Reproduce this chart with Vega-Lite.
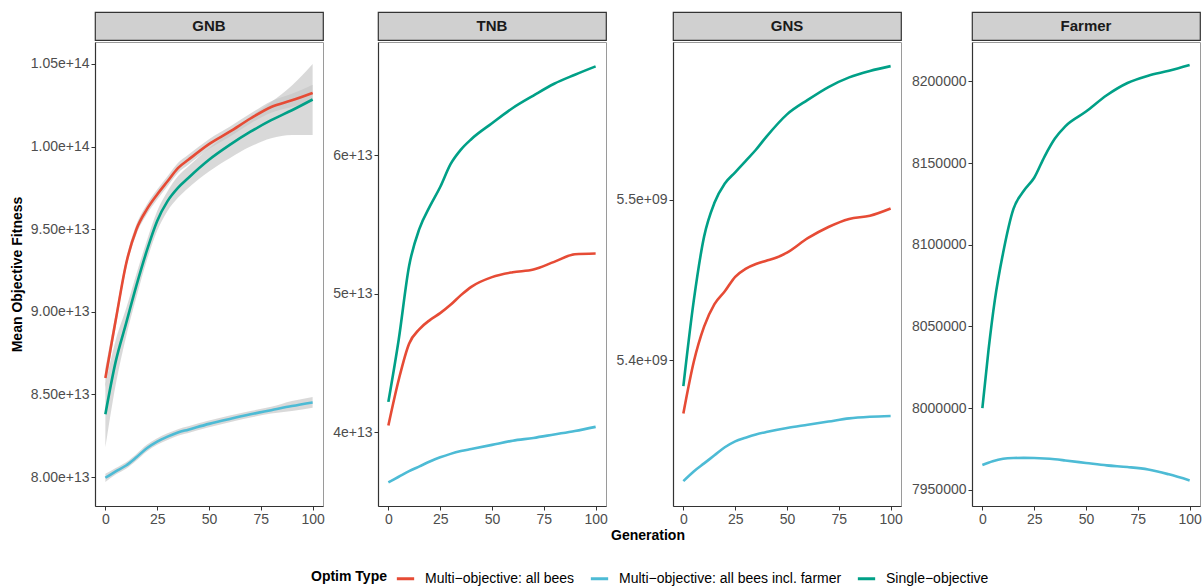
{
  "$schema": "https://vega.github.io/schema/vega-lite/v6.json",
  "padding": {"left": 9, "top": 11, "right": 0, "bottom": 0},
  "background": "white",
  "config": {
    "font": "Liberation Sans",
    "view": {"stroke": null},
    "axis": {"labelFontSize": 14, "labelColor": "#4d4d4d", "titleFontSize": 14, "titleFontWeight": "bold", "titleColor": "black", "domainColor": "#333333", "domainWidth": 1.2, "tickColor": "#333333", "tickSize": 4, "tickWidth": 1, "grid": false, "labelPadding": 2}
  },
  "datasets": {
    "c": [
      {"p":"GNB","t":"Multi−objective: all bees","g":0,"v":8.60e13,"lo":8.54e13,"hi":8.66e13},
      {"p":"GNB","t":"Multi−objective: all bees","g":5,"v":8.95e13,"lo":8.91e13,"hi":8.99e13},
      {"p":"GNB","t":"Multi−objective: all bees","g":10,"v":9.29e13,"lo":9.26e13,"hi":9.32e13},
      {"p":"GNB","t":"Multi−objective: all bees","g":15,"v":9.50e13,"lo":9.47e13,"hi":9.53e13},
      {"p":"GNB","t":"Multi−objective: all bees","g":20,"v":9.62e13,"lo":9.59e13,"hi":9.65e13},
      {"p":"GNB","t":"Multi−objective: all bees","g":25,"v":9.71e13,"lo":9.68e13,"hi":9.74e13},
      {"p":"GNB","t":"Multi−objective: all bees","g":30,"v":9.79e13,"lo":9.76e13,"hi":9.82e13},
      {"p":"GNB","t":"Multi−objective: all bees","g":35,"v":9.87e13,"lo":9.84e13,"hi":9.90e13},
      {"p":"GNB","t":"Multi−objective: all bees","g":40,"v":9.92e13,"lo":9.89e13,"hi":9.95e13},
      {"p":"GNB","t":"Multi−objective: all bees","g":50,"v":1.0015e14,"lo":9.985e13,"hi":1.0045e14},
      {"p":"GNB","t":"Multi−objective: all bees","g":60,"v":1.009e14,"lo":1.006e14,"hi":1.012e14},
      {"p":"GNB","t":"Multi−objective: all bees","g":70,"v":1.017e14,"lo":1.014e14,"hi":1.020e14},
      {"p":"GNB","t":"Multi−objective: all bees","g":80,"v":1.024e14,"lo":1.0205e14,"hi":1.0275e14},
      {"p":"GNB","t":"Multi−objective: all bees","g":90,"v":1.028e14,"lo":1.024e14,"hi":1.032e14},
      {"p":"GNB","t":"Multi−objective: all bees","g":100,"v":1.0325e14,"lo":1.0275e14,"hi":1.0375e14},
      {"p":"GNB","t":"Single−objective","g":0,"v":8.38e13,"lo":8.18e13,"hi":8.56e13},
      {"p":"GNB","t":"Single−objective","g":5,"v":8.70e13,"lo":8.56e13,"hi":8.83e13},
      {"p":"GNB","t":"Single−objective","g":10,"v":8.93e13,"lo":8.85e13,"hi":9.02e13},
      {"p":"GNB","t":"Single−objective","g":15,"v":9.16e13,"lo":9.09e13,"hi":9.23e13},
      {"p":"GNB","t":"Single−objective","g":20,"v":9.37e13,"lo":9.31e13,"hi":9.43e13},
      {"p":"GNB","t":"Single−objective","g":25,"v":9.55e13,"lo":9.49e13,"hi":9.61e13},
      {"p":"GNB","t":"Single−objective","g":30,"v":9.67e13,"lo":9.61e13,"hi":9.73e13},
      {"p":"GNB","t":"Single−objective","g":35,"v":9.75e13,"lo":9.69e13,"hi":9.82e13},
      {"p":"GNB","t":"Single−objective","g":40,"v":9.81e13,"lo":9.75e13,"hi":9.88e13},
      {"p":"GNB","t":"Single−objective","g":50,"v":9.92e13,"lo":9.85e13,"hi":9.99e13},
      {"p":"GNB","t":"Single−objective","g":60,"v":1.001e14,"lo":9.93e13,"hi":1.009e14},
      {"p":"GNB","t":"Single−objective","g":70,"v":1.009e14,"lo":1.000e14,"hi":1.018e14},
      {"p":"GNB","t":"Single−objective","g":80,"v":1.016e14,"lo":1.005e14,"hi":1.027e14},
      {"p":"GNB","t":"Single−objective","g":90,"v":1.022e14,"lo":1.007e14,"hi":1.037e14},
      {"p":"GNB","t":"Single−objective","g":100,"v":1.0285e14,"lo":1.007e14,"hi":1.050e14},
      {"p":"GNB","t":"Multi−objective: all bees incl. farmer","g":0,"v":7.996e13,"lo":7.97e13,"hi":8.02e13},
      {"p":"GNB","t":"Multi−objective: all bees incl. farmer","g":5,"v":8.035e13,"lo":8.015e13,"hi":8.055e13},
      {"p":"GNB","t":"Multi−objective: all bees incl. farmer","g":10,"v":8.07e13,"lo":8.05e13,"hi":8.09e13},
      {"p":"GNB","t":"Multi−objective: all bees incl. farmer","g":15,"v":8.12e13,"lo":8.10e13,"hi":8.14e13},
      {"p":"GNB","t":"Multi−objective: all bees incl. farmer","g":20,"v":8.175e13,"lo":8.155e13,"hi":8.195e13},
      {"p":"GNB","t":"Multi−objective: all bees incl. farmer","g":25,"v":8.215e13,"lo":8.195e13,"hi":8.235e13},
      {"p":"GNB","t":"Multi−objective: all bees incl. farmer","g":30,"v":8.245e13,"lo":8.225e13,"hi":8.265e13},
      {"p":"GNB","t":"Multi−objective: all bees incl. farmer","g":35,"v":8.27e13,"lo":8.25e13,"hi":8.29e13},
      {"p":"GNB","t":"Multi−objective: all bees incl. farmer","g":40,"v":8.287e13,"lo":8.267e13,"hi":8.307e13},
      {"p":"GNB","t":"Multi−objective: all bees incl. farmer","g":50,"v":8.322e13,"lo":8.302e13,"hi":8.342e13},
      {"p":"GNB","t":"Multi−objective: all bees incl. farmer","g":60,"v":8.352e13,"lo":8.332e13,"hi":8.372e13},
      {"p":"GNB","t":"Multi−objective: all bees incl. farmer","g":70,"v":8.38e13,"lo":8.36e13,"hi":8.40e13},
      {"p":"GNB","t":"Multi−objective: all bees incl. farmer","g":80,"v":8.405e13,"lo":8.385e13,"hi":8.425e13},
      {"p":"GNB","t":"Multi−objective: all bees incl. farmer","g":90,"v":8.43e13,"lo":8.40e13,"hi":8.46e13},
      {"p":"GNB","t":"Multi−objective: all bees incl. farmer","g":100,"v":8.452e13,"lo":8.42e13,"hi":8.485e13},

      {"p":"TNB","t":"Single−objective","g":0,"v":4.22e13},
      {"p":"TNB","t":"Single−objective","g":5,"v":4.67e13},
      {"p":"TNB","t":"Single−objective","g":10,"v":5.20e13},
      {"p":"TNB","t":"Single−objective","g":15,"v":5.47e13},
      {"p":"TNB","t":"Single−objective","g":20,"v":5.63e13},
      {"p":"TNB","t":"Single−objective","g":25,"v":5.77e13},
      {"p":"TNB","t":"Single−objective","g":30,"v":5.935e13},
      {"p":"TNB","t":"Single−objective","g":35,"v":6.04e13},
      {"p":"TNB","t":"Single−objective","g":40,"v":6.115e13},
      {"p":"TNB","t":"Single−objective","g":50,"v":6.23e13},
      {"p":"TNB","t":"Single−objective","g":60,"v":6.34e13},
      {"p":"TNB","t":"Single−objective","g":70,"v":6.43e13},
      {"p":"TNB","t":"Single−objective","g":80,"v":6.515e13},
      {"p":"TNB","t":"Single−objective","g":90,"v":6.58e13},
      {"p":"TNB","t":"Single−objective","g":100,"v":6.64e13},
      {"p":"TNB","t":"Multi−objective: all bees","g":0,"v":4.05e13},
      {"p":"TNB","t":"Multi−objective: all bees","g":5,"v":4.38e13},
      {"p":"TNB","t":"Multi−objective: all bees","g":10,"v":4.64e13},
      {"p":"TNB","t":"Multi−objective: all bees","g":15,"v":4.745e13},
      {"p":"TNB","t":"Multi−objective: all bees","g":20,"v":4.81e13},
      {"p":"TNB","t":"Multi−objective: all bees","g":25,"v":4.86e13},
      {"p":"TNB","t":"Multi−objective: all bees","g":30,"v":4.92e13},
      {"p":"TNB","t":"Multi−objective: all bees","g":35,"v":4.99e13},
      {"p":"TNB","t":"Multi−objective: all bees","g":40,"v":5.05e13},
      {"p":"TNB","t":"Multi−objective: all bees","g":50,"v":5.12e13},
      {"p":"TNB","t":"Multi−objective: all bees","g":60,"v":5.155e13},
      {"p":"TNB","t":"Multi−objective: all bees","g":70,"v":5.175e13},
      {"p":"TNB","t":"Multi−objective: all bees","g":80,"v":5.23e13},
      {"p":"TNB","t":"Multi−objective: all bees","g":90,"v":5.285e13},
      {"p":"TNB","t":"Multi−objective: all bees","g":100,"v":5.29e13},
      {"p":"TNB","t":"Multi−objective: all bees incl. farmer","g":0,"v":3.64e13},
      {"p":"TNB","t":"Multi−objective: all bees incl. farmer","g":5,"v":3.68e13},
      {"p":"TNB","t":"Multi−objective: all bees incl. farmer","g":10,"v":3.72e13},
      {"p":"TNB","t":"Multi−objective: all bees incl. farmer","g":15,"v":3.755e13},
      {"p":"TNB","t":"Multi−objective: all bees incl. farmer","g":20,"v":3.79e13},
      {"p":"TNB","t":"Multi−objective: all bees incl. farmer","g":25,"v":3.82e13},
      {"p":"TNB","t":"Multi−objective: all bees incl. farmer","g":30,"v":3.845e13},
      {"p":"TNB","t":"Multi−objective: all bees incl. farmer","g":35,"v":3.865e13},
      {"p":"TNB","t":"Multi−objective: all bees incl. farmer","g":40,"v":3.88e13},
      {"p":"TNB","t":"Multi−objective: all bees incl. farmer","g":50,"v":3.91e13},
      {"p":"TNB","t":"Multi−objective: all bees incl. farmer","g":60,"v":3.94e13},
      {"p":"TNB","t":"Multi−objective: all bees incl. farmer","g":70,"v":3.96e13},
      {"p":"TNB","t":"Multi−objective: all bees incl. farmer","g":80,"v":3.985e13},
      {"p":"TNB","t":"Multi−objective: all bees incl. farmer","g":90,"v":4.01e13},
      {"p":"TNB","t":"Multi−objective: all bees incl. farmer","g":100,"v":4.04e13},

      {"p":"GNS","t":"Single−objective","g":0,"v":5.384e9},
      {"p":"GNS","t":"Single−objective","g":5,"v":5.437e9},
      {"p":"GNS","t":"Single−objective","g":10,"v":5.477e9},
      {"p":"GNS","t":"Single−objective","g":15,"v":5.498e9},
      {"p":"GNS","t":"Single−objective","g":20,"v":5.510e9},
      {"p":"GNS","t":"Single−objective","g":25,"v":5.517e9},
      {"p":"GNS","t":"Single−objective","g":30,"v":5.524e9},
      {"p":"GNS","t":"Single−objective","g":35,"v":5.531e9},
      {"p":"GNS","t":"Single−objective","g":40,"v":5.539e9},
      {"p":"GNS","t":"Single−objective","g":50,"v":5.553e9},
      {"p":"GNS","t":"Single−objective","g":60,"v":5.562e9},
      {"p":"GNS","t":"Single−objective","g":70,"v":5.570e9},
      {"p":"GNS","t":"Single−objective","g":80,"v":5.576e9},
      {"p":"GNS","t":"Single−objective","g":90,"v":5.580e9},
      {"p":"GNS","t":"Single−objective","g":100,"v":5.583e9},
      {"p":"GNS","t":"Multi−objective: all bees","g":0,"v":5.367e9},
      {"p":"GNS","t":"Multi−objective: all bees","g":5,"v":5.399e9},
      {"p":"GNS","t":"Multi−objective: all bees","g":10,"v":5.421e9},
      {"p":"GNS","t":"Multi−objective: all bees","g":15,"v":5.435e9},
      {"p":"GNS","t":"Multi−objective: all bees","g":20,"v":5.443e9},
      {"p":"GNS","t":"Multi−objective: all bees","g":25,"v":5.452e9},
      {"p":"GNS","t":"Multi−objective: all bees","g":30,"v":5.457e9},
      {"p":"GNS","t":"Multi−objective: all bees","g":35,"v":5.460e9},
      {"p":"GNS","t":"Multi−objective: all bees","g":40,"v":5.462e9},
      {"p":"GNS","t":"Multi−objective: all bees","g":45,"v":5.464e9},
      {"p":"GNS","t":"Multi−objective: all bees","g":50,"v":5.467e9},
      {"p":"GNS","t":"Multi−objective: all bees","g":60,"v":5.476e9},
      {"p":"GNS","t":"Multi−objective: all bees","g":70,"v":5.483e9},
      {"p":"GNS","t":"Multi−objective: all bees","g":80,"v":5.488e9},
      {"p":"GNS","t":"Multi−objective: all bees","g":90,"v":5.490e9},
      {"p":"GNS","t":"Multi−objective: all bees","g":100,"v":5.4945e9},
      {"p":"GNS","t":"Multi−objective: all bees incl. farmer","g":0,"v":5.325e9},
      {"p":"GNS","t":"Multi−objective: all bees incl. farmer","g":5,"v":5.331e9},
      {"p":"GNS","t":"Multi−objective: all bees incl. farmer","g":10,"v":5.336e9},
      {"p":"GNS","t":"Multi−objective: all bees incl. farmer","g":15,"v":5.341e9},
      {"p":"GNS","t":"Multi−objective: all bees incl. farmer","g":20,"v":5.346e9},
      {"p":"GNS","t":"Multi−objective: all bees incl. farmer","g":25,"v":5.3497e9},
      {"p":"GNS","t":"Multi−objective: all bees incl. farmer","g":30,"v":5.352e9},
      {"p":"GNS","t":"Multi−objective: all bees incl. farmer","g":35,"v":5.354e9},
      {"p":"GNS","t":"Multi−objective: all bees incl. farmer","g":40,"v":5.3555e9},
      {"p":"GNS","t":"Multi−objective: all bees incl. farmer","g":50,"v":5.358e9},
      {"p":"GNS","t":"Multi−objective: all bees incl. farmer","g":60,"v":5.360e9},
      {"p":"GNS","t":"Multi−objective: all bees incl. farmer","g":70,"v":5.362e9},
      {"p":"GNS","t":"Multi−objective: all bees incl. farmer","g":80,"v":5.364e9},
      {"p":"GNS","t":"Multi−objective: all bees incl. farmer","g":90,"v":5.365e9},
      {"p":"GNS","t":"Multi−objective: all bees incl. farmer","g":100,"v":5.3655e9},

      {"p":"Farmer","t":"Single−objective","g":0,"v":8000000},
      {"p":"Farmer","t":"Single−objective","g":3,"v":8036000},
      {"p":"Farmer","t":"Single−objective","g":6,"v":8066000},
      {"p":"Farmer","t":"Single−objective","g":10,"v":8095000},
      {"p":"Farmer","t":"Single−objective","g":15,"v":8122000},
      {"p":"Farmer","t":"Single−objective","g":20,"v":8133000},
      {"p":"Farmer","t":"Single−objective","g":25,"v":8141000},
      {"p":"Farmer","t":"Single−objective","g":30,"v":8154000},
      {"p":"Farmer","t":"Single−objective","g":35,"v":8165000},
      {"p":"Farmer","t":"Single−objective","g":40,"v":8172500},
      {"p":"Farmer","t":"Single−objective","g":50,"v":8181500},
      {"p":"Farmer","t":"Single−objective","g":60,"v":8191500},
      {"p":"Farmer","t":"Single−objective","g":70,"v":8199000},
      {"p":"Farmer","t":"Single−objective","g":80,"v":8203500},
      {"p":"Farmer","t":"Single−objective","g":90,"v":8206500},
      {"p":"Farmer","t":"Single−objective","g":100,"v":8210000},
      {"p":"Farmer","t":"Multi−objective: all bees incl. farmer","g":0,"v":7965200},
      {"p":"Farmer","t":"Multi−objective: all bees incl. farmer","g":5,"v":7967500},
      {"p":"Farmer","t":"Multi−objective: all bees incl. farmer","g":10,"v":7969000},
      {"p":"Farmer","t":"Multi−objective: all bees incl. farmer","g":15,"v":7969500},
      {"p":"Farmer","t":"Multi−objective: all bees incl. farmer","g":20,"v":7969600},
      {"p":"Farmer","t":"Multi−objective: all bees incl. farmer","g":25,"v":7969500},
      {"p":"Farmer","t":"Multi−objective: all bees incl. farmer","g":30,"v":7969200},
      {"p":"Farmer","t":"Multi−objective: all bees incl. farmer","g":35,"v":7968700},
      {"p":"Farmer","t":"Multi−objective: all bees incl. farmer","g":40,"v":7968000},
      {"p":"Farmer","t":"Multi−objective: all bees incl. farmer","g":50,"v":7966500},
      {"p":"Farmer","t":"Multi−objective: all bees incl. farmer","g":60,"v":7965000},
      {"p":"Farmer","t":"Multi−objective: all bees incl. farmer","g":70,"v":7964000},
      {"p":"Farmer","t":"Multi−objective: all bees incl. farmer","g":80,"v":7962500},
      {"p":"Farmer","t":"Multi−objective: all bees incl. farmer","g":90,"v":7959500},
      {"p":"Farmer","t":"Multi−objective: all bees incl. farmer","g":100,"v":7955800}
    ]
  },
  "spacing": 0,
  "vconcat": [
    {
      "spacing": 7,
      "hconcat": [
        {
          "spacing": 0,
          "vconcat": [
            {"data": {"values": [{"p": "GNB"}]}, "width": 228, "height": 28, "view": {"fill": "#d0d0d0", "stroke": "#333333", "strokeWidth": 1.2},
             "mark": {"type": "text", "fontSize": 15, "fontWeight": "bold", "color": "#1a1a1a"}, "encoding": {"text": {"field": "p"}}},
            {"data": {"name": "c"}, "transform": [{"filter": "datum.p === 'GNB'"}], "width": 228, "height": 464, "view": {"stroke": "#9a9a9a", "strokeWidth": 1},
             "layer": [
               {"mark": {"type": "area", "color": "#c4c4c4", "opacity": 0.65, "interpolate": "monotone"},
                "encoding": {
                  "x": {"field": "g", "type": "quantitative", "scale": {"domain": [-5, 105], "nice": false}, "axis": {"values": [0, 25, 50, 75, 100], "title": null}},
                  "y": {"field": "lo", "type": "quantitative", "scale": {"domain": [7.825e13, 1.0633e14], "nice": false, "zero": false}, "axis": {"title": "Mean Objective Fitness", "values": [8e13, 8.5e13, 9e13, 9.5e13, 1e14, 1.05e14], "format": ".2e", "titlePadding": 6}},
                  "y2": {"field": "hi"},
                  "detail": {"field": "t"}}},
               {"mark": {"type": "line", "strokeWidth": 2.6, "interpolate": "monotone"},
                "encoding": {
                  "x": {"field": "g", "type": "quantitative", "scale": {"domain": [-5, 105], "nice": false}, "axis": {"values": [0, 25, 50, 75, 100], "title": null}},
                  "y": {"field": "v", "type": "quantitative", "scale": {"domain": [7.825e13, 1.0633e14], "nice": false, "zero": false}, "axis": {"title": "Mean Objective Fitness", "values": [8e13, 8.5e13, 9e13, 9.5e13, 1e14, 1.05e14], "format": ".2e", "titlePadding": 6}},
                  "color": {"field": "t", "type": "nominal", "scale": {"domain": ["Multi−objective: all bees", "Multi−objective: all bees incl. farmer", "Single−objective"], "range": ["#E64B35", "#4DBBD5", "#00A087"]},
                    "legend": {"title": "Optim Type", "orient": "none", "legendX": 216, "legendY": 556, "direction": "horizontal", "titleOrient": "left", "titleFontSize": 14, "titleFontWeight": "bold", "titleColor": "black", "titlePadding": 8, "labelFontSize": 14, "labelColor": "black", "labelLimit": 400, "symbolType": "stroke", "symbolStrokeWidth": 3, "symbolSize": 300, "columnPadding": 9, "labelOffset": 9}}}}
             ]}
          ]
        },
        {
          "spacing": 0,
          "vconcat": [
            {"data": {"values": [{"p": "TNB"}]}, "width": 228, "height": 28, "view": {"fill": "#d0d0d0", "stroke": "#333333", "strokeWidth": 1.2},
             "mark": {"type": "text", "fontSize": 15, "fontWeight": "bold", "color": "#1a1a1a"}, "encoding": {"text": {"field": "p"}}},
            {"data": {"name": "c"}, "transform": [{"filter": "datum.p === 'TNB'"}], "width": 228, "height": 464, "view": {"stroke": "#9a9a9a", "strokeWidth": 1},
             "mark": {"type": "line", "strokeWidth": 2.6, "interpolate": "monotone"},
             "encoding": {
               "x": {"field": "g", "type": "quantitative", "scale": {"domain": [-5, 105], "nice": false}, "axis": {"values": [0, 25, 50, 75, 100], "title": null}},
               "y": {"field": "v", "type": "quantitative", "scale": {"domain": [3.469e13, 6.816e13], "nice": false, "zero": false}, "axis": {"title": null, "values": [4e13, 5e13, 6e13], "format": ".0e"}},
               "color": {"field": "t", "type": "nominal", "scale": {"domain": ["Multi−objective: all bees", "Multi−objective: all bees incl. farmer", "Single−objective"], "range": ["#E64B35", "#4DBBD5", "#00A087"]},
                 "legend": {"title": "Optim Type", "orient": "none", "legendX": 216, "legendY": 556, "direction": "horizontal", "titleOrient": "left", "titleFontSize": 14, "titleFontWeight": "bold", "titleColor": "black", "titlePadding": 8, "labelFontSize": 14, "labelColor": "black", "labelLimit": 400, "symbolType": "stroke", "symbolStrokeWidth": 3, "symbolSize": 300, "columnPadding": 9, "labelOffset": 9}}}}
          ]
        },
        {
          "spacing": 0,
          "vconcat": [
            {"data": {"values": [{"p": "GNS"}]}, "width": 228, "height": 28, "view": {"fill": "#d0d0d0", "stroke": "#333333", "strokeWidth": 1.2},
             "mark": {"type": "text", "fontSize": 15, "fontWeight": "bold", "color": "#1a1a1a"}, "encoding": {"text": {"field": "p"}}},
            {"data": {"name": "c"}, "transform": [{"filter": "datum.p === 'GNS'"}], "width": 228, "height": 464, "view": {"stroke": "#9a9a9a", "strokeWidth": 1},
             "mark": {"type": "line", "strokeWidth": 2.6, "interpolate": "monotone"},
             "encoding": {
               "x": {"field": "g", "type": "quantitative", "scale": {"domain": [-5, 105], "nice": false}, "axis": {"values": [0, 25, 50, 75, 100], "title": null}},
               "y": {"field": "v", "type": "quantitative", "scale": {"domain": [5.3095e9, 5.598e9], "nice": false, "zero": false}, "axis": {"title": null, "values": [5.4e9, 5.5e9], "labelExpr": "replace(format(datum.value, '.1e'), 'e+9', 'e+09')"}},
               "color": {"field": "t", "type": "nominal", "scale": {"domain": ["Multi−objective: all bees", "Multi−objective: all bees incl. farmer", "Single−objective"], "range": ["#E64B35", "#4DBBD5", "#00A087"]},
                 "legend": {"title": "Optim Type", "orient": "none", "legendX": 216, "legendY": 556, "direction": "horizontal", "titleOrient": "left", "titleFontSize": 14, "titleFontWeight": "bold", "titleColor": "black", "titlePadding": 8, "labelFontSize": 14, "labelColor": "black", "labelLimit": 400, "symbolType": "stroke", "symbolStrokeWidth": 3, "symbolSize": 300, "columnPadding": 9, "labelOffset": 9}}}}
          ]
        },
        {
          "spacing": 0,
          "vconcat": [
            {"data": {"values": [{"p": "Farmer"}]}, "width": 228, "height": 28, "view": {"fill": "#d0d0d0", "stroke": "#333333", "strokeWidth": 1.2},
             "mark": {"type": "text", "fontSize": 15, "fontWeight": "bold", "color": "#1a1a1a"}, "encoding": {"text": {"field": "p"}}},
            {"data": {"name": "c"}, "transform": [{"filter": "datum.p === 'Farmer'"}], "width": 228, "height": 464, "view": {"stroke": "#9a9a9a", "strokeWidth": 1},
             "mark": {"type": "line", "strokeWidth": 2.6, "interpolate": "monotone"},
             "encoding": {
               "x": {"field": "g", "type": "quantitative", "scale": {"domain": [-5, 105], "nice": false}, "axis": {"values": [0, 25, 50, 75, 100], "title": null}},
               "y": {"field": "v", "type": "quantitative", "scale": {"domain": [7940135, 8224080], "nice": false, "zero": false}, "axis": {"title": null, "values": [7950000, 8000000, 8050000, 8100000, 8150000, 8200000], "format": "d"}},
               "color": {"field": "t", "type": "nominal", "scale": {"domain": ["Multi−objective: all bees", "Multi−objective: all bees incl. farmer", "Single−objective"], "range": ["#E64B35", "#4DBBD5", "#00A087"]},
                 "legend": {"title": "Optim Type", "orient": "none", "legendX": 216, "legendY": 556, "direction": "horizontal", "titleOrient": "left", "titleFontSize": 14, "titleFontWeight": "bold", "titleColor": "black", "titlePadding": 8, "labelFontSize": 14, "labelColor": "black", "labelLimit": 400, "symbolType": "stroke", "symbolStrokeWidth": 3, "symbolSize": 300, "columnPadding": 9, "labelOffset": 9}}}}
          ]
        }
      ]
    },
    {
      "data": {"values": [{"label": "Generation"}]},
      "width": 1096, "height": 18,
      "mark": {"type": "text", "fontSize": 14, "fontWeight": "bold", "color": "black", "dx": 5},
      "encoding": {"text": {"field": "label"}}
    }
  ]
}
